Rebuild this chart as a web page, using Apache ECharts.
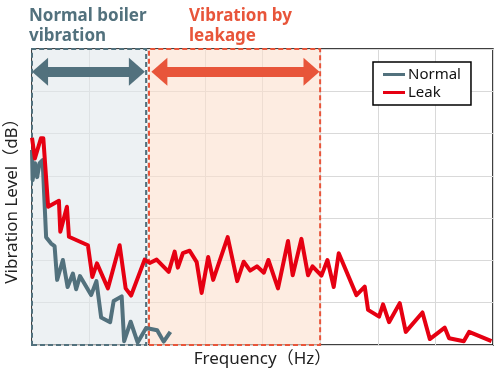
<!DOCTYPE html>
<html>
<head>
<meta charset="utf-8">
<script src="https://cdn.jsdelivr.net/npm/echarts@6/dist/echarts.min.js"></script>
<style>html,body{margin:0;padding:0;background:#fff;}#c{width:500px;height:375px;}</style>
</head>
<body>
<div id="c"></div>
<script>
// Frequency (x, 0-8) and vibration level (y, 0-7)
const normalFreq = [0, 0.01, 0.054, 0.089, 0.132, 0.184, 0.245, 0.332, 0.392, 0.436, 0.536, 0.618, 0.71, 0.766, 0.832, 1.026, 1.118, 1.2, 1.356, 1.417, 1.556, 1.599, 1.712, 1.833, 1.981, 2.172, 2.285, 2.401];
const normalLevel = [4.61, 3.9, 4.3, 3.97, 4.3, 4.37, 2.55, 2.4, 2.34, 1.54, 2.01, 1.37, 1.69, 1.32, 1.63, 1.18, 1.51, 0.65, 0.54, 1.04, 1.15, 0.09, 0.55, 0.06, 0.4, 0.35, 0.08, 0.31];

const leakFreq = [0, 0.05, 0.155, 0.196, 0.28, 0.467, 0.491, 0.606, 0.641, 0.97, 1.047, 1.127, 1.318, 1.521, 1.625, 1.72, 1.955, 2.042, 2.163, 2.372, 2.476, 2.531, 2.618, 2.736, 2.858, 2.944, 3.057, 3.144, 3.396, 3.561, 3.674, 3.786, 3.903, 4.024, 4.102, 4.269, 4.443, 4.524, 4.675, 4.79, 4.868, 5.023, 5.127, 5.236, 5.323, 5.63, 5.774, 5.832, 6.023, 6.092, 6.196, 6.382, 6.486, 6.776, 6.903, 7.163, 7.238, 7.493, 7.585, 7.974];
const leakLevel = [4.9, 4.41, 4.89, 4.89, 3.27, 3.41, 2.68, 3.27, 2.56, 2.36, 1.61, 1.93, 1.34, 2.36, 1.34, 1.17, 2.02, 1.94, 2.02, 1.73, 2.21, 1.83, 2.17, 2.23, 1.96, 1.23, 2.08, 1.54, 2.55, 1.51, 1.97, 1.76, 1.86, 1.71, 2.01, 1.34, 2.46, 1.65, 2.51, 1.65, 1.86, 1.64, 2.01, 1.37, 2.17, 1.18, 1.38, 0.83, 0.67, 0.96, 0.54, 0.99, 0.31, 0.77, 0.14, 0.41, 0.16, 0.09, 0.31, 0.09];

// Highlighted frequency zones [start, end]
const normalZone = [0, 1.98];
const leakZone = [2.03, 5.0];
// Arrow ends (symbol centres) and level
const normalArrow = [0.14, 1.82];
const leakArrow = [2.21, 4.85];
const arrowLevel = 6.46;

const seriesNames = ['Normal', 'Leak'];
const zoneTitles = ['Normal boiler\nvibration', 'Vibration by\nleakage'];
const xTitle = 'Frequency（Hz）';
const yTitle = 'Vibration Level（dB）';

const GRAY = '#52717d', RED = '#e60012', ORANGE = '#e8553a';
const font = 'Noto Sans, Noto Sans CJK JP, sans-serif';

const chart = echarts.init(document.getElementById('c'), null, {renderer: 'canvas'});
chart.setOption({
  animation: false,
  backgroundColor: '#fff',
  title: [
    {text: zoneTitles[0], left: 24, top: 1, textStyle: {color: GRAY, fontSize: 17, fontWeight: 'bold', fontFamily: font, lineHeight: 20}},
    {text: zoneTitles[1], left: 184, top: 1, textStyle: {color: ORANGE, fontSize: 17, fontWeight: 'bold', fontFamily: font, lineHeight: 20}}
  ],
  grid: {left: 32, right: 7, top: 49, bottom: 30, outerBoundsMode: 'none', containLabel: false, show: true, borderColor: '#000', borderWidth: 1.5, backgroundColor: 'transparent'},
  legend: {
    data: seriesNames, orient: 'vertical', left: 373, top: 62,
    padding: [5, 10, 5, 10], itemGap: 3, itemWidth: 22, itemHeight: 3, icon: 'rect',
    borderColor: '#000', borderWidth: 1.5, backgroundColor: '#fff', borderRadius: 0,
    textStyle: {fontSize: 15, color: '#111', fontFamily: font, padding: [0,0,0,-2]}
  },
  xAxis: {
    type: 'value', min: 0, max: 8, interval: 1,
    name: xTitle, nameLocation: 'middle', nameGap: 6,
    nameTextStyle: {fontSize: 17, color: '#222', fontFamily: font},
    axisLabel: {show: false}, axisTick: {show: false}, axisLine: {show: false},
    splitLine: {lineStyle: {color: '#d9d9d9', width: 1}}
  },
  yAxis: {
    type: 'value', min: 0, max: 7, interval: 1,
    name: yTitle, nameLocation: 'middle', nameGap: 11, nameRotate: 90,
    nameTextStyle: {fontSize: 17, color: '#222', fontFamily: font},
    axisLabel: {show: false}, axisTick: {show: false}, axisLine: {show: false},
    splitLine: {lineStyle: {color: '#d9d9d9', width: 1}}
  },
  series: [
    {
      name: 'zones', type: 'line', data: [], z: 1, silent: true,
      markArea: {
        silent: true,
        data: [
          [{xAxis: normalZone[0], itemStyle: {color: 'rgba(225,231,235,0.6)', borderColor: GRAY, borderWidth: 2, borderType: [5, 3]}}, {xAxis: normalZone[1]}],
          [{xAxis: leakZone[0], itemStyle: {color: 'rgba(252,224,205,0.6)', borderColor: ORANGE, borderWidth: 2, borderType: [5, 3]}}, {xAxis: leakZone[1]}]
        ]
      },
      markLine: {
        silent: true, symbol: ['triangle', 'triangle'], symbolSize: [28, 16],
        label: {show: false},
        data: [
          [{coord: [normalArrow[0], arrowLevel], lineStyle: {color: GRAY, width: 10, type: 'solid'}, itemStyle: {color: GRAY}}, {coord: [normalArrow[1], arrowLevel]}],
          [{coord: [leakArrow[0], arrowLevel], lineStyle: {color: ORANGE, width: 10, type: 'solid'}, itemStyle: {color: ORANGE}}, {coord: [leakArrow[1], arrowLevel]}]
        ]
      }
    },
    {
      name: seriesNames[0], type: 'line', z: 3, showSymbol: false, symbol: 'none',
      data: normalFreq.map((f, i) => [f, normalLevel[i]]),
      lineStyle: {color: GRAY, width: 4, join: 'round'}, itemStyle: {color: GRAY}
    },
    {
      name: seriesNames[1], type: 'line', z: 4, showSymbol: false, symbol: 'none',
      data: leakFreq.map((f, i) => [f, leakLevel[i]]),
      lineStyle: {color: RED, width: 4, join: 'round'}, itemStyle: {color: RED}
    }
  ]
});
</script>
</body>
</html>
